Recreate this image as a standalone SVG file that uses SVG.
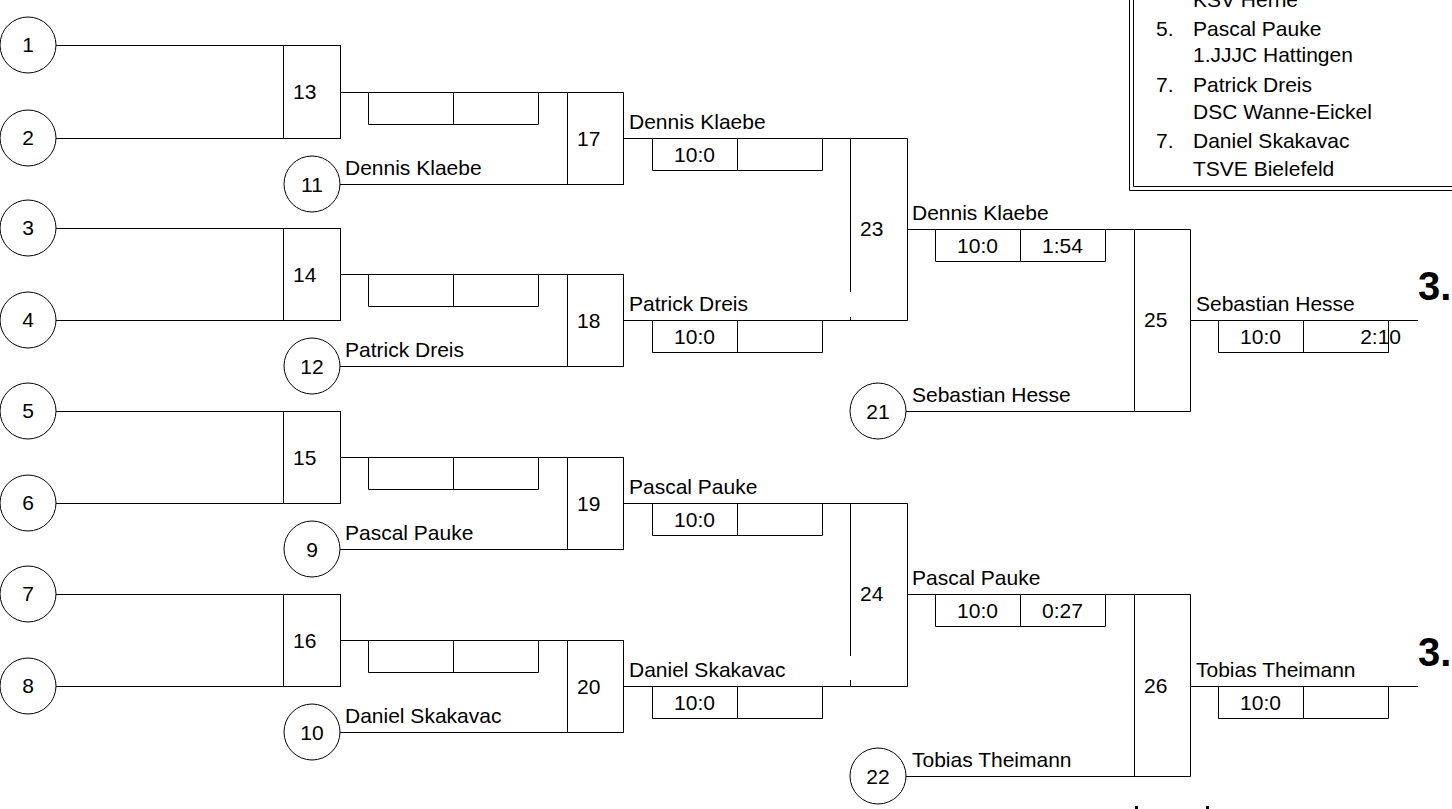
<svg xmlns="http://www.w3.org/2000/svg" width="1452" height="809" viewBox="0 0 1452 809">
<style>
  .ln{stroke:#000;stroke-width:1;fill:none}
  .bx{stroke:#000;stroke-width:1;fill:#fff}
  .c{stroke:#000;stroke-width:1;fill:#fff}
  text{font-family:"Liberation Sans",Arial,sans-serif;font-size:21px;fill:#000}
  .m{text-anchor:middle}
  .big{font-weight:bold;font-size:40px}
</style>
<rect width="1452" height="809" fill="#fff"/>

<g id="connectors">
  <path class="ln" d="M56 45.5H283.5M56 138.5H283.5M56 228.5H283.5M56 320.5H283.5M56 411.5H283.5M56 503.5H283.5M56 594.5H283.5M56 686.5H283.5"/>
  <path class="ln" d="M340.5 92.5H567.5M340 184.5H567.5M340.5 274.5H567.5M340 366.5H567.5M340.5 457.5H567.5M340 549.5H567.5M340.5 640.5H567.5M340 732.5H567.5"/>
  <path class="ln" d="M623.5 138.5H907.5M623.5 320.5H907.5M623.5 503.5H907.5M623.5 686.5H907.5"/>
  <path class="ln" d="M907.5 229.5H1190.5M906 411.5H1190.5M907.5 594.5H1190.5M906 776.5H1190.5"/>
  <path class="ln" d="M1190.5 320.5H1418M1190.5 686.5H1418"/>
</g>

<g id="scores">
  <path class="ln" d="M368.5 92.5V124.5H538.5V92.5M453.5 92.5V124.5"/>
  <path class="ln" d="M368.5 274.5V306.5H538.5V274.5M453.5 274.5V306.5"/>
  <path class="ln" d="M368.5 457.5V489.5H538.5V457.5M453.5 457.5V489.5"/>
  <path class="ln" d="M368.5 640.5V672.5H538.5V640.5M453.5 640.5V672.5"/>
  <path class="ln" d="M652.5 138.5V170.5H822.5V138.5M737.5 138.5V170.5"/>
  <path class="ln" d="M652.5 320.5V352.5H822.5V320.5M737.5 320.5V352.5"/>
  <path class="ln" d="M652.5 503.5V535.5H822.5V503.5M737.5 503.5V535.5"/>
  <path class="ln" d="M652.5 686.5V718.5H822.5V686.5M737.5 686.5V718.5"/>
  <path class="ln" d="M935.5 229.5V261.5H1105.5V229.5M1020.5 229.5V261.5"/>
  <path class="ln" d="M935.5 594.5V626.5H1105.5V594.5M1020.5 594.5V626.5"/>
  <path class="ln" d="M1218.5 320.5V352.5H1388.5V320.5M1303.5 320.5V352.5"/>
  <path class="ln" d="M1218.5 686.5V718.5H1388.5V686.5M1303.5 686.5V718.5"/>
  <text class="m" x="694.5" y="162">10:0</text>
  <text class="m" x="694.5" y="344">10:0</text>
  <text class="m" x="694.5" y="527">10:0</text>
  <text class="m" x="694.5" y="710">10:0</text>
  <text class="m" x="977.5" y="253">10:0</text>
  <text class="m" x="1062.5" y="253">1:54</text>
  <text class="m" x="977.5" y="618">10:0</text>
  <text class="m" x="1062.5" y="618">0:27</text>
  <text class="m" x="1260.5" y="344">10:0</text>
  <text x="1401" y="344" text-anchor="end">2:10</text>
  <text class="m" x="1260.5" y="710">10:0</text>
</g>

<g id="names">
  <text x="345" y="175">Dennis Klaebe</text>
  <text x="345" y="357">Patrick Dreis</text>
  <text x="345" y="540">Pascal Pauke</text>
  <text x="345" y="723">Daniel Skakavac</text>
  <text x="629" y="129">Dennis Klaebe</text>
  <text x="629" y="311">Patrick Dreis</text>
  <text x="629" y="494">Pascal Pauke</text>
  <text x="629" y="677">Daniel Skakavac</text>
  <text x="912" y="220">Dennis Klaebe</text>
  <text x="912" y="402">Sebastian Hesse</text>
  <text x="912" y="585">Pascal Pauke</text>
  <text x="912" y="767">Tobias Theimann</text>
  <text x="1196" y="311">Sebastian Hesse</text>
  <text x="1196" y="677">Tobias Theimann</text>
</g>

<g id="n1"><circle class="c" cx="28" cy="45" r="28"/><text class="m" x="28" y="52">1</text></g>
<g id="n2"><circle class="c" cx="28" cy="138" r="28"/><text class="m" x="28" y="145">2</text></g>
<g id="n3"><circle class="c" cx="28" cy="228" r="28"/><text class="m" x="28" y="235">3</text></g>
<g id="n4"><circle class="c" cx="28" cy="320" r="28"/><text class="m" x="28" y="327">4</text></g>
<g id="n5"><circle class="c" cx="28" cy="411" r="28"/><text class="m" x="28" y="418">5</text></g>
<g id="n6"><circle class="c" cx="28" cy="503" r="28"/><text class="m" x="28" y="510">6</text></g>
<g id="n7"><circle class="c" cx="28" cy="594" r="28"/><text class="m" x="28" y="601">7</text></g>
<g id="n8"><circle class="c" cx="28" cy="686" r="28"/><text class="m" x="28" y="693">8</text></g>
<g id="n11"><circle class="c" cx="312" cy="184" r="28"/><text class="m" x="312" y="192">11</text></g>
<g id="n12"><circle class="c" cx="312" cy="366" r="28"/><text class="m" x="312" y="374">12</text></g>
<g id="n9"><circle class="c" cx="312" cy="549" r="28"/><text class="m" x="312" y="557">9</text></g>
<g id="n10"><circle class="c" cx="312" cy="732" r="28"/><text class="m" x="312" y="740">10</text></g>
<g id="n21"><circle class="c" cx="878" cy="411" r="28"/><text class="m" x="878" y="419">21</text></g>
<g id="n22"><circle class="c" cx="878" cy="776" r="28"/><text class="m" x="878" y="784">22</text></g>

<g id="n13"><rect class="bx" x="283.5" y="45.5" width="57" height="93"/><text x="293" y="99">13</text></g>
<g id="n14"><rect class="bx" x="283.5" y="228.5" width="57" height="92"/><text x="293" y="282">14</text></g>
<g id="n15"><rect class="bx" x="283.5" y="411.5" width="57" height="92"/><text x="293" y="465">15</text></g>
<g id="n16"><rect class="bx" x="283.5" y="594.5" width="57" height="92"/><text x="293" y="648">16</text></g>
<g id="n17"><rect class="bx" x="567.5" y="92.5" width="56" height="92"/><text x="577" y="146">17</text></g>
<g id="n18"><rect class="bx" x="567.5" y="274.5" width="56" height="92"/><text x="577" y="328">18</text></g>
<g id="n19"><rect class="bx" x="567.5" y="457.5" width="56" height="92"/><text x="577" y="511">19</text></g>
<g id="n20"><rect class="bx" x="567.5" y="640.5" width="56" height="92"/><text x="577" y="694">20</text></g>
<g id="n23"><path class="ln" d="M850.5 138.5V292M850.5 317V320.5M907.5 138.5V320.5"/><text x="860" y="236">23</text></g>
<g id="n24"><path class="ln" d="M850.5 503.5V656M850.5 680V686.5M907.5 503.5V686.5"/><text x="860" y="601">24</text></g>
<g id="n25"><path class="ln" d="M1134.5 229.5V411.5M1190.5 229.5V411.5"/><text x="1144" y="327">25</text></g>
<g id="n26"><path class="ln" d="M1134.5 594.5V776.5M1190.5 594.5V776.5"/><text x="1144" y="693">26</text></g>

<g id="places">
  <text class="big" x="1418" y="300">3.</text>
  <text class="big" x="1418" y="666">3.</text>
</g>

<g id="legend">
  <path class="ln" d="M1129.5 -5V190.5H1460M1133.5 -5V186.5H1460" stroke="#222"/>
  <text x="1193" y="7">KSV Herne</text>
  <text x="1156" y="36">5.</text><text x="1193" y="36">Pascal Pauke</text>
  <text x="1193" y="62">1.JJJC Hattingen</text>
  <text x="1156" y="92">7.</text><text x="1193" y="92">Patrick Dreis</text>
  <text x="1193" y="119">DSC Wanne-Eickel</text>
  <text x="1156" y="148">7.</text><text x="1193" y="148">Daniel Skakavac</text>
  <text x="1193" y="176">TSVE Bielefeld</text>
</g>

<g id="cutoff">
  <rect x="1135" y="806" width="3" height="3" fill="#000"/>
  <rect x="1206" y="806" width="3" height="3" fill="#000"/>
</g>
</svg>
